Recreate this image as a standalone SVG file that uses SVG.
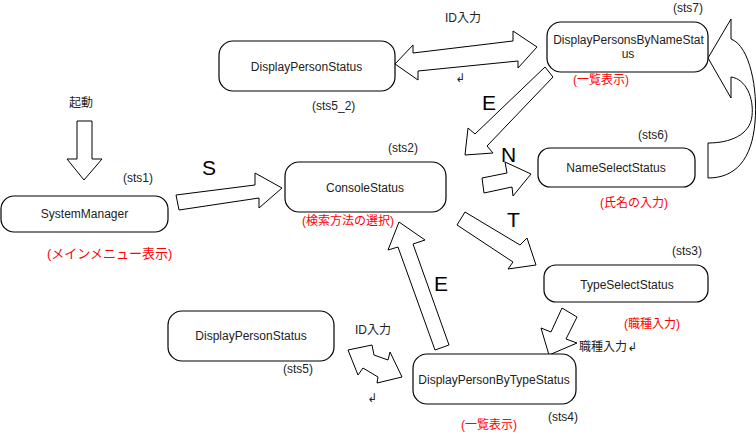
<svg xmlns="http://www.w3.org/2000/svg" width="756" height="441" viewBox="0 0 756 441">
<style>
.box{fill:#fff;stroke:#000;stroke-width:1.2}
.arr{fill:#fff;stroke:#000;stroke-width:1;stroke-linejoin:miter}
text{font-family:"Liberation Sans","Noto Sans CJK JP","DejaVu Sans",sans-serif;font-size:12px;fill:#222}
.c{text-anchor:middle}
.red{fill:#f00}
.big{font-size:21px;fill:#000}
</style>
<rect width="756" height="441" fill="#fff"/>
<g id="connectors">
<polygon class="arr" points="77,121 92,121 92,159 102,159 84,180 67,159 77,159"/>
<polygon class="arr" points="176,195 255,185 255,173 282,188 259,208 259,198 179,210"/>
<polygon class="arr" points="395,64 413,45 413,53 513,41 513,31 537,47 518,68 518,61 418,71 418,80"/>
<polygon class="arr" points="545,67 553,77 487,146 493,153 465,155 468,128 475,134"/>
<polygon class="arr" points="482,178 507,173 505,162 531,174 513,196 512,187 484,193"/>
<polygon class="arr" points="465,212 520,245 527,238 536,265 508,269 513,262 457,225"/>
<polygon class="arr" points="562,308 577,317 566,339 577,343 549,355 541,328 551,332"/>
<polygon class="arr" points="435,350 449,345 413,244 425,240 399,222 388,250 398,247"/>
<polygon class="arr" points="348,350 372,345 374,355 388,360 390,352 402,377 377,383 378,377 363,368 358,375"/>
<path class="arr" d="M708,58 L731,19 L731,39 C750,46 758,90 755,122 C752,160 735,178 708,178 L708,143 C730,143 750,135 752,116 C754,98 746,79 731,77 L731,98 Z"/>
</g>
<g id="SystemManager">
<rect class="box" x="1" y="196" width="167" height="36" rx="13"/>
<text class="c" x="84.5" y="218">SystemManager</text>
</g>
<g id="ConsoleStatus">
<rect class="box" x="285" y="162" width="161" height="50" rx="14"/>
<text class="c" x="365" y="192">ConsoleStatus</text>
</g>
<g id="DisplayPersonStatus_top">
<rect class="box" x="219" y="41" width="176" height="50" rx="14"/>
<text class="c" x="306.5" y="71">DisplayPersonStatus</text>
</g>
<g id="DisplayPersonsByNameStatus">
<rect class="box" x="547" y="22" width="161" height="50" rx="14"/>
<text class="c" x="628.5" y="44">DisplayPersonsByNameStat</text>
<text class="c" x="628" y="58">us</text>
</g>
<g id="NameSelectStatus">
<rect class="box" x="538" y="148" width="157" height="39" rx="12"/>
<text class="c" x="616" y="172">NameSelectStatus</text>
</g>
<g id="TypeSelectStatus">
<rect class="box" x="544" y="265" width="164" height="37" rx="12"/>
<text class="c" x="627" y="289">TypeSelectStatus</text>
</g>
<g id="DisplayPersonByTypeStatus">
<rect class="box" x="413" y="354" width="163" height="50" rx="14"/>
<text class="c" x="494" y="384">DisplayPersonByTypeStatus</text>
</g>
<g id="DisplayPersonStatus_bottom">
<rect class="box" x="168" y="311" width="166" height="50" rx="14"/>
<text class="c" x="251" y="340">DisplayPersonStatus</text>
</g>
<g id="labels">
<text x="69" y="107">起動</text>
<text x="123" y="182">(sts1)</text>
<text class="red" x="47" y="258" style="font-size:13px">(メインメニュー表示)</text>
<text class="big" x="202" y="175">S</text>
<text x="312" y="110">(sts5_2)</text>
<text x="445" y="22">ID入力</text>
<text x="455" y="82">↲</text>
<text x="673" y="12">(sts7)</text>
<text class="red" x="573" y="84">(一覧表示)</text>
<text x="638" y="139">(sts6)</text>
<text class="red" x="600" y="207">(氏名の入力)</text>
<text x="388" y="152">(sts2)</text>
<text class="red" x="302" y="225">(検索方法の選択)</text>
<text class="big" x="482" y="110">E</text>
<text class="big" x="501" y="162">N</text>
<text class="big" x="507" y="227">T</text>
<text class="big" x="434" y="291">E</text>
<text x="672" y="255">(sts3)</text>
<text class="red" x="624" y="328">(職種入力)</text>
<text x="579" y="351">職種入力↲</text>
<text x="283" y="373">(sts5)</text>
<text x="355" y="334">ID入力</text>
<text x="367" y="402">↲</text>
<text x="548" y="421">(sts4)</text>
<text class="red" x="461" y="429">(一覧表示)</text>
</g>
</svg>
